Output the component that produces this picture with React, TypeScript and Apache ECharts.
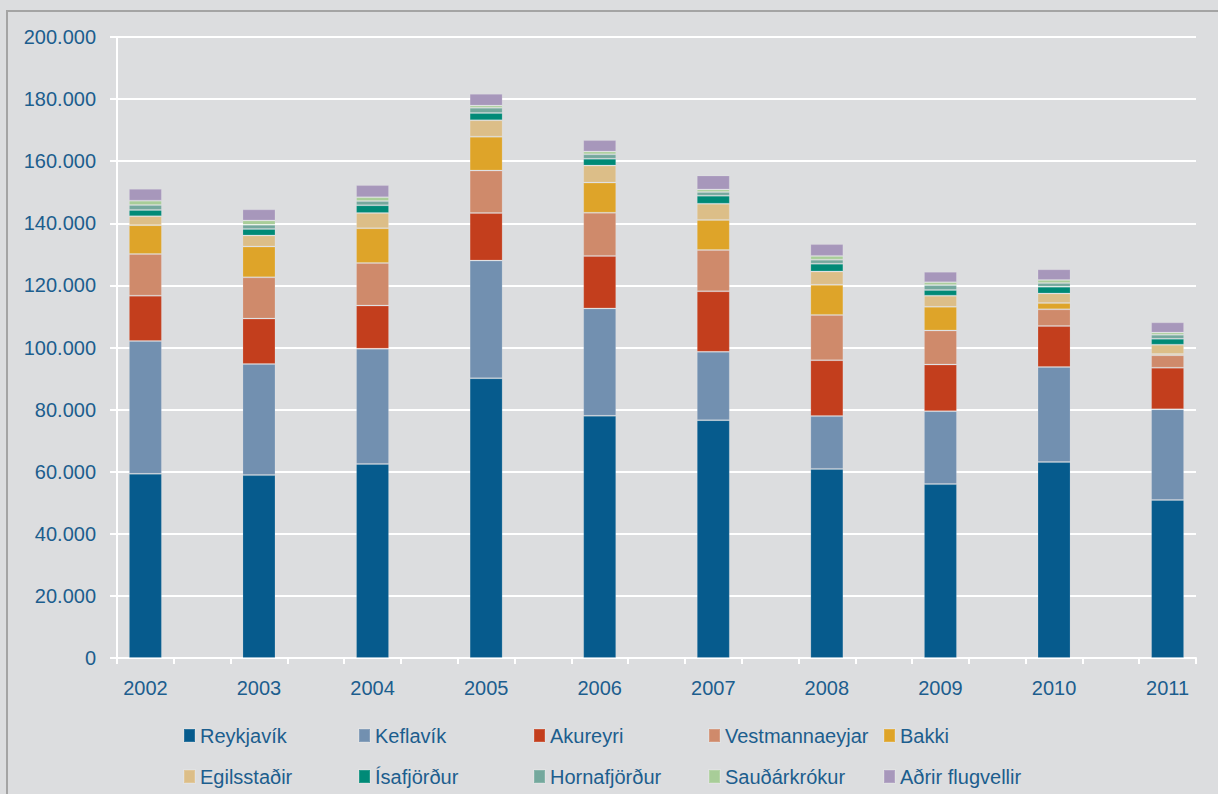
import React, { useEffect, useRef } from "react";
import * as echarts from "echarts";

const years = ["2002", "2003", "2004", "2005", "2006", "2007", "2008", "2009", "2010", "2011"];
const yTickValues = [0, 20000, 40000, 60000, 80000, 100000, 120000, 140000, 160000, 180000, 200000];

const reykjavik = [59300, 58900, 62500, 90100, 78000, 76600, 60900, 56000, 63100, 50900];
const keflavik = [42800, 35800, 37100, 37900, 34600, 22000, 17000, 23500, 30600, 29200];
const akureyri = [14600, 14600, 13900, 15300, 16900, 19500, 18000, 15000, 13200, 13400];
const vestmannaeyjar = [13400, 13300, 13700, 13700, 13900, 13300, 14600, 11000, 5400, 4000];
const bakki = [9300, 9900, 11200, 10900, 9700, 9700, 9700, 7600, 2000, 400];
const egilsstadir = [2900, 3600, 4900, 5300, 5500, 5200, 4300, 3600, 3100, 3000];
const isafjordur = [2000, 2100, 2500, 2300, 2200, 2600, 2500, 1800, 2200, 1900];
const hornafjordur = [1600, 1300, 1400, 1700, 1400, 1200, 1300, 1600, 1200, 1300];
const saudarkrokur = [1400, 1400, 1200, 700, 900, 800, 1200, 900, 900, 700];
const adrir = [3800, 3600, 3900, 3800, 3700, 4500, 3800, 3400, 3500, 3300];

const seriesNames = [
  "Reykjavík",
  "Keflavík",
  "Akureyri",
  "Vestmannaeyjar",
  "Bakki",
  "Egilsstaðir",
  "Ísafjörður",
  "Hornafjörður",
  "Sauðárkrókur",
  "Aðrir flugvellir",
];
const seriesData = [
  reykjavik,
  keflavik,
  akureyri,
  vestmannaeyjar,
  bakki,
  egilsstadir,
  isafjordur,
  hornafjordur,
  saudarkrokur,
  adrir,
];
const colors = [
  "#065b8d",
  "#7290b0",
  "#c33e1d",
  "#cf8a6b",
  "#dea429",
  "#dcbe88",
  "#008a77",
  "#74a89d",
  "#a8cd98",
  "#a797bb",
];

const TEXT = "#1c5e8e";
const FONT = "'Liberation Sans', Arial, sans-serif";

function fmt(v: number): string {
  return String(v).replace(/\B(?=(\d{3})+(?!\d))/g, ".");
}

export default function App() {
  const ref = useRef<HTMLDivElement>(null);
  useEffect(() => {
    document.body.style.margin = "0";
    const chart = echarts.init(ref.current!, null, { renderer: "svg" });

    // plot area geometry
    const plotLeft = 117;
    const plotRight = 1196;
    const W = 1218;
    const unit = (plotRight - plotLeft) / 9.5; // one category width
    const firstCenter = plotLeft + 0.25 * unit;
    const lastCenter = plotRight - 0.25 * unit;

    const tickVals: number[] = [];
    for (let k = 0; k <= 19; k++) tickVals.push(-0.25 + 0.5 * k);

    const legends = seriesNames.map((name, i) => {
      const col = i % 5;
      const row = Math.floor(i / 5);
      return {
        data: [name],
        left: 183 + col * 175,
        top: row === 0 ? 725.5 : 766.5,
        padding: 0,
        itemWidth: 11,
        itemHeight: 13,
        itemGap: 6,
        icon: "rect",
        selectedMode: false,
        textStyle: { color: TEXT, fontSize: 20, fontFamily: FONT },
      };
    });

    chart.setOption({
      animation: false,
      backgroundColor: "#dcdddf",
      textStyle: { fontFamily: FONT },
      graphic: [
        {
          type: "rect",
          shape: { x: 7, y: 11, width: 1240, height: 820 },
          style: { fill: "none", stroke: "#a4a4a4", lineWidth: 2 },
          silent: true,
        },
      ],
      legend: legends,
      grid: [
        { left: plotLeft, right: W - plotRight, top: 37, bottom: 136 },
        { left: firstCenter, right: W - lastCenter, top: 37, bottom: 136 },
      ],
      xAxis: [
        {
          gridIndex: 0,
          type: "value",
          min: -0.25,
          max: 9.25,
          axisLine: { show: true, onZero: false, lineStyle: { color: "#ffffff", width: 2 } },
          axisTick: {
            show: true,
            length: 6,
            customValues: tickVals,
            lineStyle: { color: "#ffffff", width: 2 },
          },
          splitLine: { show: false },
          axisLabel: {
            customValues: years.map((_, i) => i),
            formatter: (v: number) => years[Math.round(v)] ?? "",
            color: TEXT,
            fontSize: 20,
            fontFamily: FONT,
            margin: 20,
          },
        },
        {
          gridIndex: 1,
          type: "category",
          data: years,
          boundaryGap: false,
          show: false,
        },
      ],
      yAxis: [
        {
          gridIndex: 0,
          type: "value",
          min: 0,
          max: 200000,
          interval: 20000,
          axisLine: { show: true, onZero: false, lineStyle: { color: "#ffffff", width: 2 } },
          axisTick: { show: true, length: 7, lineStyle: { color: "#ffffff", width: 2 } },
          splitLine: { show: true, lineStyle: { color: "#ffffff", width: 2 } },
          axisLabel: {
            formatter: (v: number) => (yTickValues.includes(v) ? fmt(v) : ""),
            color: TEXT,
            fontSize: 20,
            fontFamily: FONT,
            margin: 21,
          },
        },
        {
          gridIndex: 1,
          type: "value",
          min: 0,
          max: 200000,
          show: false,
          splitLine: { show: false },
        },
      ],
      series: seriesNames.map((name, si) => ({
        name,
        type: "bar",
        stack: "total",
        xAxisIndex: 1,
        yAxisIndex: 1,
        barWidth: 33,
        clip: false,
        data: seriesData[si],
        itemStyle: {
          color: colors[si],
          borderColor: "rgba(255,255,255,0.15)",
          borderWidth: 1,
        },
      })),
    });
    return () => chart.dispose();
  }, []);
  return <div ref={ref} style={{ width: 1218, height: 794 }} />;
}
